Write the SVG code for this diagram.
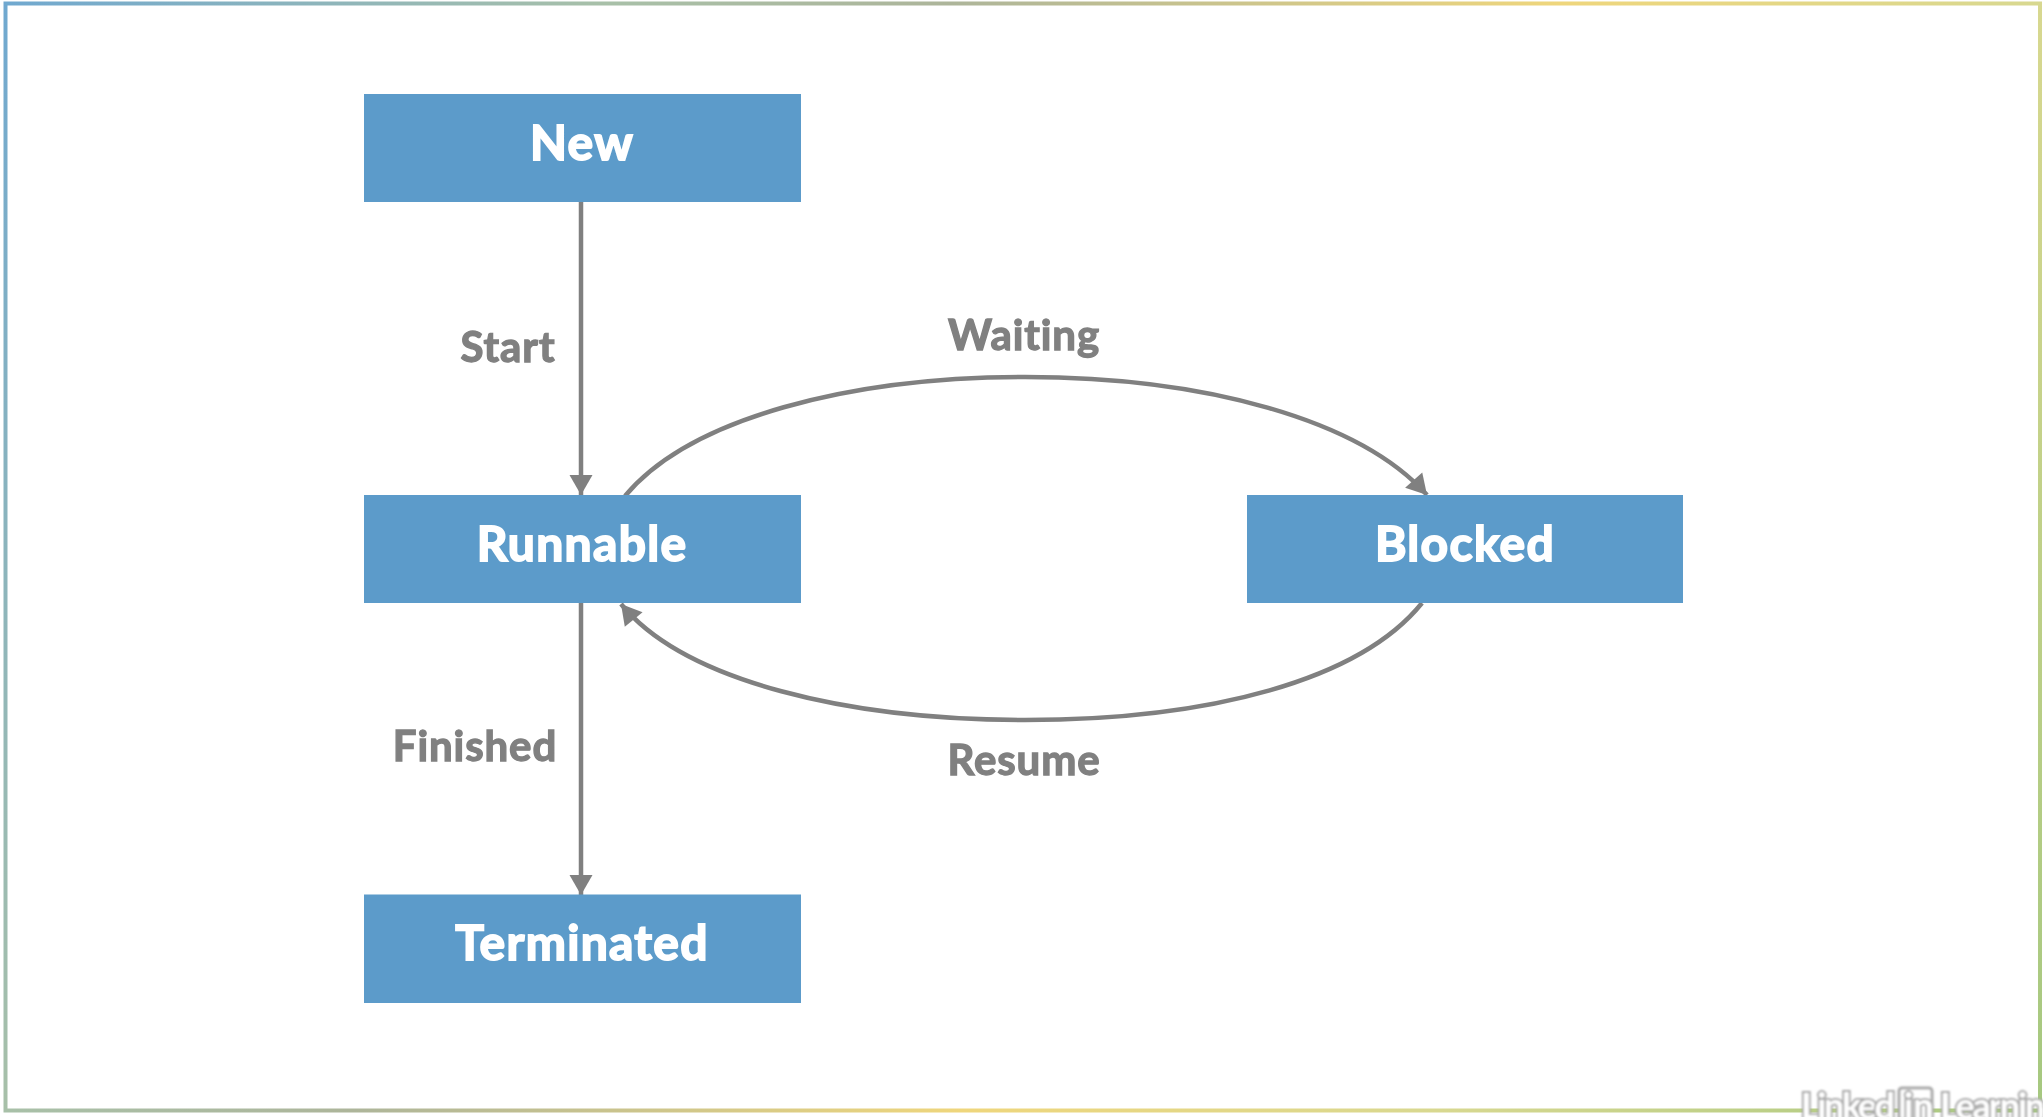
<svg xmlns="http://www.w3.org/2000/svg" width="2043" height="1117" viewBox="0 0 2043 1117">
<style>
text{font-variant-ligatures:none}
.box{fill:#5b9bca}
.nt{font-family:"Lato","Liberation Sans",sans-serif;font-weight:700;font-size:48px;fill:#fff;stroke:#fff;stroke-width:1.800px;letter-spacing:1.300px;text-anchor:middle}
.lb{font-family:"Lato","Liberation Sans",sans-serif;font-weight:700;font-size:42px;fill:#808080;stroke:#808080;stroke-width:1.300px;letter-spacing:0.900px;text-anchor:middle}
.cn{fill:none;stroke:#808080;stroke-width:4.500}
.wm{font-family:"Lato","Liberation Sans",sans-serif;font-weight:700;font-size:36px;fill:#fff;stroke:#a8a8a8;stroke-width:4px;paint-order:stroke}
</style>
<defs>
<linearGradient id="frame" gradientUnits="userSpaceOnUse" x1="0" y1="0" x2="2049" y2="1106">
<stop offset="0" stop-color="#6fa8d0"/>
<stop offset="0.23" stop-color="#a8c0a8"/>
<stop offset="0.36" stop-color="#adb59a"/>
<stop offset="0.59" stop-color="#efd67c"/>
<stop offset="0.77" stop-color="#d8d890"/>
<stop offset="1" stop-color="#a5c880"/>
</linearGradient>
<filter id="soft" x="-2%" y="-2%" width="104%" height="104%"><feGaussianBlur stdDeviation="0.6"/></filter>
<filter id="softer" x="-5%" y="-20%" width="110%" height="140%"><feGaussianBlur stdDeviation="1"/></filter>
<marker id="ah" markerUnits="userSpaceOnUse" markerWidth="26" markerHeight="26" refX="21" refY="13" orient="auto">
<path d="M1 1.500L21 13L1 24.500Z" fill="#808080"/>
</marker>
</defs>
<rect width="2043" height="1117" fill="#fff"/>
<rect id="frame-border" x="5.500" y="3.500" width="2034.500" height="1107" fill="none" stroke="url(#frame)" stroke-width="4" filter="url(#soft)"/>
<g id="connectors" filter="url(#soft)">
<line class="cn" x1="581" y1="202" x2="581" y2="495" marker-end="url(#ah)"/>
<line class="cn" x1="581" y1="603" x2="581" y2="895" marker-end="url(#ah)"/>
<path class="cn" d="M625 496C690 418 850 377 1025 377C1205 377 1360 420 1427 495" marker-end="url(#ah)"/>
<path class="cn" d="M1422 603C1360 680 1210 720 1025 720C850 720 685 682 621 604" marker-end="url(#ah)"/>
<text class="lb" x="508" y="362">Start</text>
<text class="lb" x="475" y="761">Finished</text>
<text class="lb" x="1024" y="350">Waiting</text>
<text class="lb" x="1024" y="775">Resume</text>
</g>
<g id="node-new" filter="url(#soft)"><rect class="box" x="364" y="94" width="437" height="108"/><text class="nt" x="582" y="160">New</text></g>
<g id="node-runnable" filter="url(#soft)"><rect class="box" x="364" y="495" width="437" height="108"/><text class="nt" x="582" y="561">Runnable</text></g>
<g id="node-blocked" filter="url(#soft)"><rect class="box" x="1247" y="495" width="436" height="108"/><text class="nt" x="1465" y="561">Blocked</text></g>
<g id="node-terminated" filter="url(#soft)"><rect class="box" x="364" y="894.500" width="437" height="108.500"/><text class="nt" x="582" y="960">Terminated</text></g>
<g id="watermark" filter="url(#softer)">
<rect x="1899" y="1088" width="33" height="32" rx="3" fill="#fff" stroke="#a8a8a8" stroke-width="3"/>
<text class="wm" x="1801" y="1119" textLength="94">Linked</text>
<text class="wm" x="1904" y="1119">in</text>
<text class="wm" x="1940" y="1119" textLength="122">Learning</text>
</g>
</svg>
